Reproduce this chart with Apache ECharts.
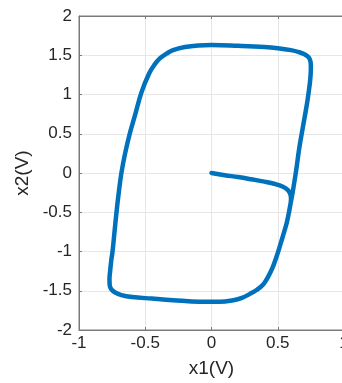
<!DOCTYPE html>
<html>
<head>
<meta charset="utf-8">
<script src="https://cdn.jsdelivr.net/npm/echarts@6/dist/echarts.min.js"></script>
<style>
html,body{margin:0;padding:0;background:#fff;}
#chart{width:342px;height:383px;}
</style>
</head>
<body>
<div id="chart"></div>
<script>
// Trajectory (x1, x2)
const x1 = [0, 0.10, 0.20, 0.30, 0.40, 0.48, 0.54, 0.575, 0.595, 0.60,
  0.59, 0.57, 0.545, 0.52, 0.49, 0.46, 0.425, 0.39, 0.34, 0.29, 0.23, 0.165, 0.06, -0.09, -0.29, -0.45, -0.60, -0.68, -0.73, -0.757, -0.768,
  -0.77, -0.765, -0.757, -0.747, -0.732, -0.717, -0.70, -0.68, -0.652, -0.617, -0.575, -0.528, -0.47, -0.43, -0.39, -0.34, -0.29, -0.20, -0.10,
  0, 0.20, 0.40, 0.50, 0.60, 0.66, 0.705, 0.735, 0.747, 0.75, 0.748, 0.742, 0.725, 0.704, 0.682, 0.661, 0.636, 0.611, 0.60, 0.585];
const x2 = [0, -0.028, -0.052, -0.08, -0.11, -0.14, -0.175, -0.215, -0.27, -0.33,
  -0.45, -0.62, -0.77, -0.91, -1.07, -1.21, -1.33, -1.42, -1.49, -1.54, -1.59, -1.62, -1.64, -1.64, -1.62, -1.60, -1.58, -1.555, -1.52, -1.48, -1.43,
  -1.35, -1.25, -1.12, -1.00, -0.75, -0.50, -0.25, 0, 0.25, 0.50, 0.75, 1.03, 1.27, 1.38, 1.46, 1.52, 1.565, 1.605, 1.625,
  1.63, 1.62, 1.605, 1.59, 1.565, 1.54, 1.51, 1.47, 1.42, 1.35, 1.25, 1.14, 0.93, 0.72, 0.51, 0.30, 0, -0.26, -0.36, -0.50];
const xTicks = [-1, -0.5, 0, 0.5, 1];
const yTicks = [-2, -1.5, -1, -0.5, 0, 0.5, 1, 1.5, 2];

const pts = x1.map((v, i) => [v, x2[i]]);
const font = 'Liberation Sans, Arial, sans-serif';
const axisGray = '#7a7a7a';
const chart = echarts.init(document.getElementById('chart'));
chart.setOption({
  animation: false,
  grid: {left: 79, top: 16, width: 265, height: 314, outerBoundsMode: 'none', containLabel: false,
         show: true, borderColor: axisGray, borderWidth: 1, backgroundColor: '#fff'},
  xAxis: [{
    type: 'value', min: xTicks[0], max: xTicks[xTicks.length - 1], interval: 0.5,
    name: 'x1(V)', nameLocation: 'middle', nameGap: 29,
    nameTextStyle: {fontFamily: font, fontSize: 19, color: '#262626'},
    axisLine: {show: true, onZero: false, lineStyle: {color: axisGray}},
    axisTick: {show: true, inside: true, length: 3, lineStyle: {color: axisGray}},
    axisLabel: {fontFamily: font, fontSize: 17, color: '#262626', margin: 5},
    splitLine: {show: true, lineStyle: {color: '#e6e6e6'}}
  }, {
    type: 'value', position: 'top', min: xTicks[0], max: xTicks[xTicks.length - 1], interval: 0.5,
    axisLine: {show: true, onZero: false, lineStyle: {color: axisGray}},
    axisTick: {show: true, inside: true, length: 3, lineStyle: {color: axisGray}},
    axisLabel: {show: false}, splitLine: {show: false}
  }],
  yAxis: [{
    type: 'value', min: yTicks[0], max: yTicks[yTicks.length - 1], interval: 0.5,
    name: 'x2(V)', nameLocation: 'middle', nameGap: 42,
    nameTextStyle: {fontFamily: font, fontSize: 19, color: '#262626'},
    axisLine: {show: true, onZero: false, lineStyle: {color: axisGray}},
    axisTick: {show: true, inside: true, length: 3, lineStyle: {color: axisGray}},
    axisLabel: {fontFamily: font, fontSize: 17, color: '#262626', margin: 7},
    splitLine: {show: true, lineStyle: {color: '#e6e6e6'}}
  }],
  series: [{
    type: 'line', data: pts, showSymbol: false, smooth: 0.4,
    lineStyle: {color: '#0072BD', width: 4.5, cap: 'round', join: 'round'},
    xAxisIndex: 0, yAxisIndex: 0
  }]
});
</script>
</body>
</html>
